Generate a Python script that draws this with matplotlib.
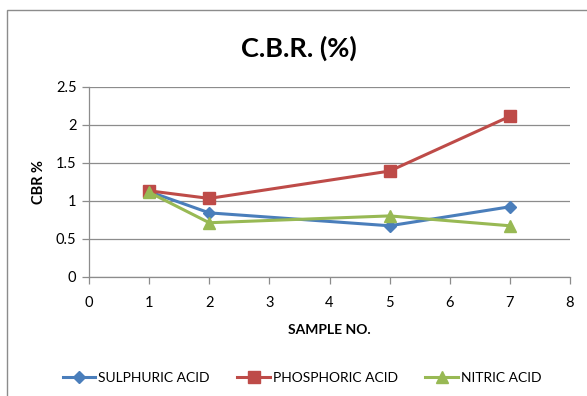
import matplotlib
matplotlib.use("Agg")
import matplotlib.pyplot as plt
from matplotlib.patches import Rectangle

plt.rcParams['font.family'] = ['Lato', 'DejaVu Sans']

x_samples = [1, 2, 5, 7]
sulphuric = [1.12, 0.84, 0.67, 0.92]
phosphoric = [1.13, 1.03, 1.39, 2.11]
nitric = [1.11, 0.71, 0.80, 0.67]
series_names = ["SULPHURIC ACID", "PHOSPHORIC ACID", "NITRIC ACID"]
title = "C.B.R. (%)"
xlabel = "SAMPLE NO."
ylabel = "CBR %"

fig = plt.figure(figsize=(5.87, 3.96), dpi=100)
fig.patches.append(Rectangle((7/587, -0.1), 1.2, 1 - 10/396 + 0.1, transform=fig.transFigure,
                             fill=False, edgecolor='#8c8c8c', linewidth=1.0, zorder=0))
ax = fig.add_axes([89/587, 1 - 276.7/396, (570-89)/587, (276.7-86.7)/396])

ax.plot(x_samples, sulphuric, color='#4A7EBB', lw=2.2, marker='D', ms=6.5, label=series_names[0], zorder=3)
ax.plot(x_samples, phosphoric, color='#BE4B48', lw=2.2, marker='s', ms=8, label=series_names[1], zorder=3)
ax.plot(x_samples, nitric, color='#98B954', lw=2.2, marker='^', ms=8.5, label=series_names[2], zorder=4)

ax.set_xlim(0, 8)
ax.set_ylim(0, 2.5)
ax.set_xticks(range(0, 9))
ax.set_yticks([0, 0.5, 1, 1.5, 2, 2.5])
ax.set_yticklabels(['0', '0.5', '1', '1.5', '2', '2.5'])
ax.grid(axis='y', color='#8c8c8c', lw=0.9)
ax.set_axisbelow(True)
for s in ['top', 'right']:
    ax.spines[s].set_visible(False)
for s in ['left', 'bottom']:
    ax.spines[s].set_color('#8c8c8c')
    ax.spines[s].set_linewidth(0.9)
ax.tick_params(axis='both', colors='#8c8c8c', labelcolor='black', labelsize=10.5, length=5, width=0.9)
ax.tick_params(axis='x', pad=9)
ax.tick_params(axis='y', pad=4)

ax.set_xlabel(xlabel, fontsize=10, fontweight='bold', labelpad=10)
ax.set_ylabel(ylabel, fontsize=10.5, fontweight='bold', labelpad=7)
fig.text(299/587, 1 - 48/396, title, fontsize=19.5, fontweight='bold', ha='center', va='center')

leg = fig.legend(loc='center', bbox_to_anchor=(302/587, 1 - 377.5/396), ncol=3, frameon=False,
                 fontsize=10, handlelength=2.35, columnspacing=2.0, handletextpad=0.2)

fig.savefig("out.png", dpi=100)
